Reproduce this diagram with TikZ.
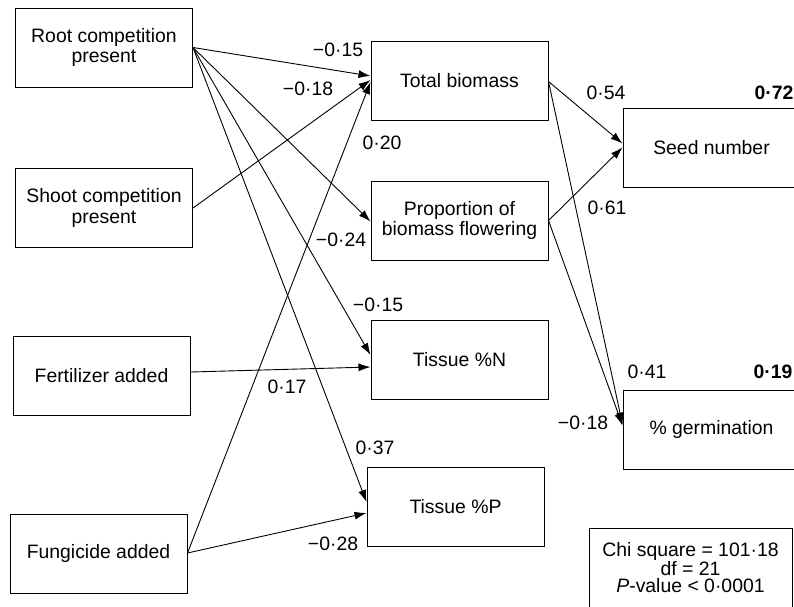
\documentclass[tikz,border=0pt]{standalone}
\usepackage{fontspec}
\setmainfont{Liberation Sans}
\usetikzlibrary{arrows.meta}
\begin{document}
\begin{tikzpicture}[x=1pt,y=-1pt,
  box/.style={draw, line width=1pt, minimum width=177pt, minimum height=79pt, inner sep=0pt, align=center, font=\fontsize{19.4}{20.5}\selectfont},
  lab/.style={inner sep=0pt, font=\fontsize{19.4}{20.5}\selectfont},
  arr/.style={-{Latex[length=12pt,width=8pt]}, line width=0.9pt}]
\useasboundingbox (0,0) rectangle (794,606);
% boxes
\node[box] (root) at (104,47.5) {Root competition\\present};
\node[box] (shoot) at (104,208) {Shoot competition\\present};
\node[box] (fert) at (101.5,376) {Fertilizer added};
\node[box] (fung) at (98.5,553.5) {Fungicide added};
\node[box] (total) at (459.5,80.5) {Total biomass};
\node[box] (prop) at (459.5,220.5) {Proportion of\\biomass flowering};
\node[box] (tissN) at (459.5,360) {Tissue \%N};
\node[box] (tissP) at (455.5,507) {Tissue \%P};
\node[box] (seed) at (711.5,147.5) {Seed number};
\node[box] (germ) at (711.5,429.5) {\% germination};
% chi box
\draw[line width=1pt] (589,528) rectangle (792,650);
\node[lab, align=center, font=\fontsize{19.4}{17.5}\selectfont] (chi) at (690.5,567.5) {Chi square = 101·18\\df = 21\\\textit{P}-value < 0·0001};
% arrows
\draw[arr] (root.east) -- ([yshift=4.5pt]total.west);
\draw[arr] (shoot.east) -- ([yshift=0.5pt]total.west);
\draw[arr] ([yshift=0.5pt]fung.east) -- ([yshift=-1.5pt]total.west);
\draw[arr] (root.east) -- ([yshift=-1pt]prop.west);
\draw[arr] (root.east) -- ([yshift=5pt]tissN.west);
\draw[arr] ([yshift=4pt]fert.east) -- ([yshift=-7pt]tissN.west);
\draw[arr] (root.east) -- ([yshift=5pt]tissP.west);
\draw[arr] ([yshift=0.5pt]fung.east) -- ([yshift=-6pt]tissP.west);
\draw[arr] ([yshift=-1pt]total.east) -- ([yshift=4pt]seed.west);
\draw[arr] ([yshift=-1pt]total.east) -- ([yshift=5pt]germ.west);
\draw[arr] (prop.east) -- ([yshift=0pt]seed.west);
\draw[arr] (prop.east) -- ([yshift=4pt]germ.west);
% labels
\node[lab] (l1) at (338,50) {−0·15};
\node[lab] (l2) at (308,89) {−0·18};
\node[lab] (l3) at (382,143) {0·20};
\node[lab] (l4) at (341,240) {−0·24};
\node[lab] (l5) at (378,305) {−0·15};
\node[lab] (l6) at (287,387) {0·17};
\node[lab] (l7) at (375,448) {0·37};
\node[lab] (l8) at (333,544) {−0·28};
\node[lab] (l9) at (606,93) {0·54};
\node[lab] (l10) at (774,93) {\textbf{0·72}};
\node[lab] (l11) at (607,208) {0·61};
\node[lab] (l12) at (647,372) {0·41};
\node[lab] (l13) at (773,372) {\textbf{0·19}};
\node[lab] (l14) at (583,423) {−0·18};
\end{tikzpicture}
\end{document}
